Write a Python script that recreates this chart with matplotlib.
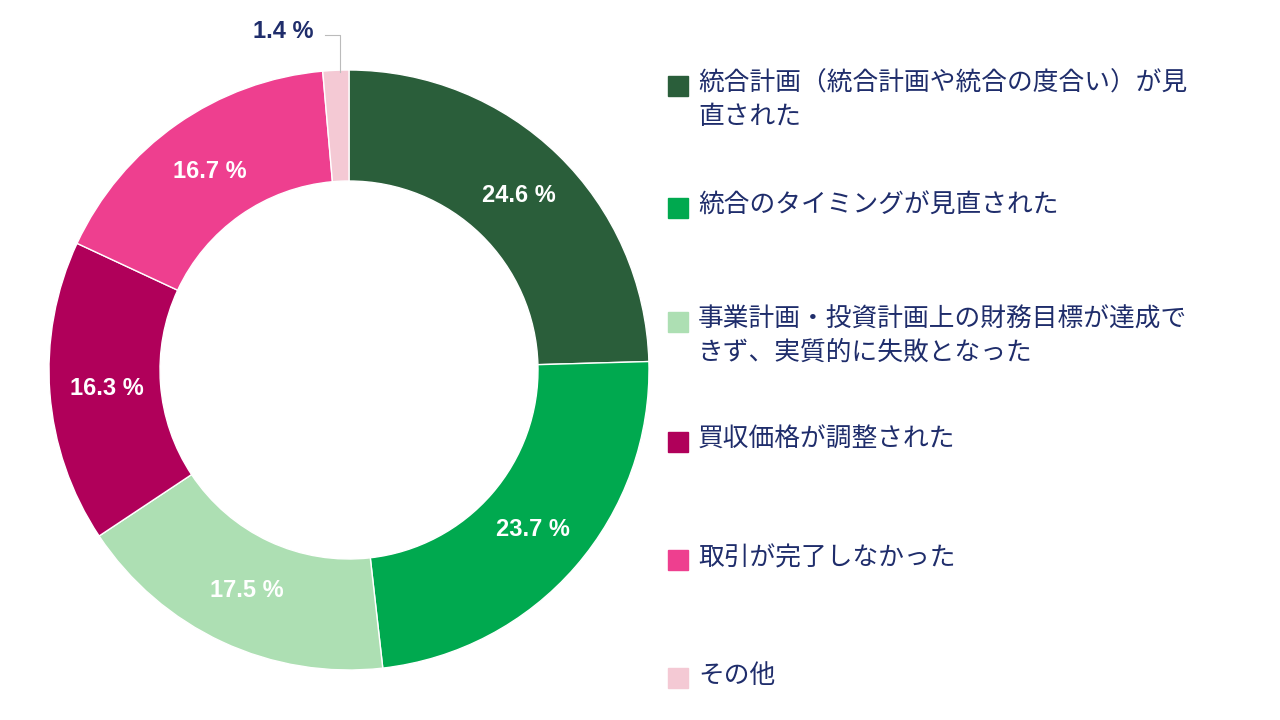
import numpy as np
import matplotlib.pyplot as plt
from matplotlib.patches import Rectangle
from matplotlib.lines import Line2D

plt.rcParams['font.family'] = ['Noto Sans CJK JP']

labels = ['統合計画（統合計画や統合の度合い）が見\n直された',
          '統合のタイミングが見直された',
          '事業計画・投資計画上の財務目標が達成で\nきず、実質的に失敗となった',
          '買収価格が調整された',
          '取引が完了しなかった',
          'その他']
values = [24.6, 23.7, 17.5, 16.3, 16.7, 1.4]
colors = ['#2a5e3a', '#00a94f', '#addfb3', '#b0005a', '#ee3f8f', '#f4c9d4']
navy = '#1f2d6b'

W, H = 1280, 720
fig = plt.figure(figsize=(12.8, 7.2), dpi=100)
ax = fig.add_axes([49 / W, 50 / H, 600 / W, 600 / H])
wedges, _ = ax.pie(values, colors=colors, startangle=90, counterclock=False,
                   wedgeprops=dict(width=0.37, edgecolor='white', linewidth=1))
ax.set_xlim(-1, 1)
ax.set_ylim(-1, 1)
ax.set_aspect('equal')

total = sum(values)
cum = 0
for v, w in zip(values, wedges):
    mid = 90 - (cum + v / 2) / total * 360
    cum += v
    if v < 5:
        continue
    r = 0.81
    ax.text(r * np.cos(np.radians(mid)), r * np.sin(np.radians(mid)),
            f'{v} %', ha='center', va='center', color='white',
            fontsize=17, fontweight='bold', family='Liberation Sans')

# small slice label outside
fig.text(283 / W, 1 - 32 / H, f'{values[-1]} %', ha='center', va='center',
         color=navy, fontsize=17, fontweight='bold', family='Liberation Sans')
fig.add_artist(Line2D([325 / W, 340 / W, 340 / W],
                      [1 - 35 / H, 1 - 35 / H, 1 - 72 / H],
                      color='#bbbbbb', linewidth=0.8))

ys = [86, 208, 322, 442, 560, 678]
for lab, c, y in zip(labels, colors, ys):
    fig.add_artist(Rectangle((668 / W, 1 - (y + 10) / H), 20 / W, 20 / H,
                             color=c, transform=fig.transFigure))
    fig.text(698 / W, 1 - (y - 15) / H, lab, ha='left', va='top',
             color=navy, fontsize=18.5, linespacing=1.35)

fig.savefig('out.png', dpi=100)
